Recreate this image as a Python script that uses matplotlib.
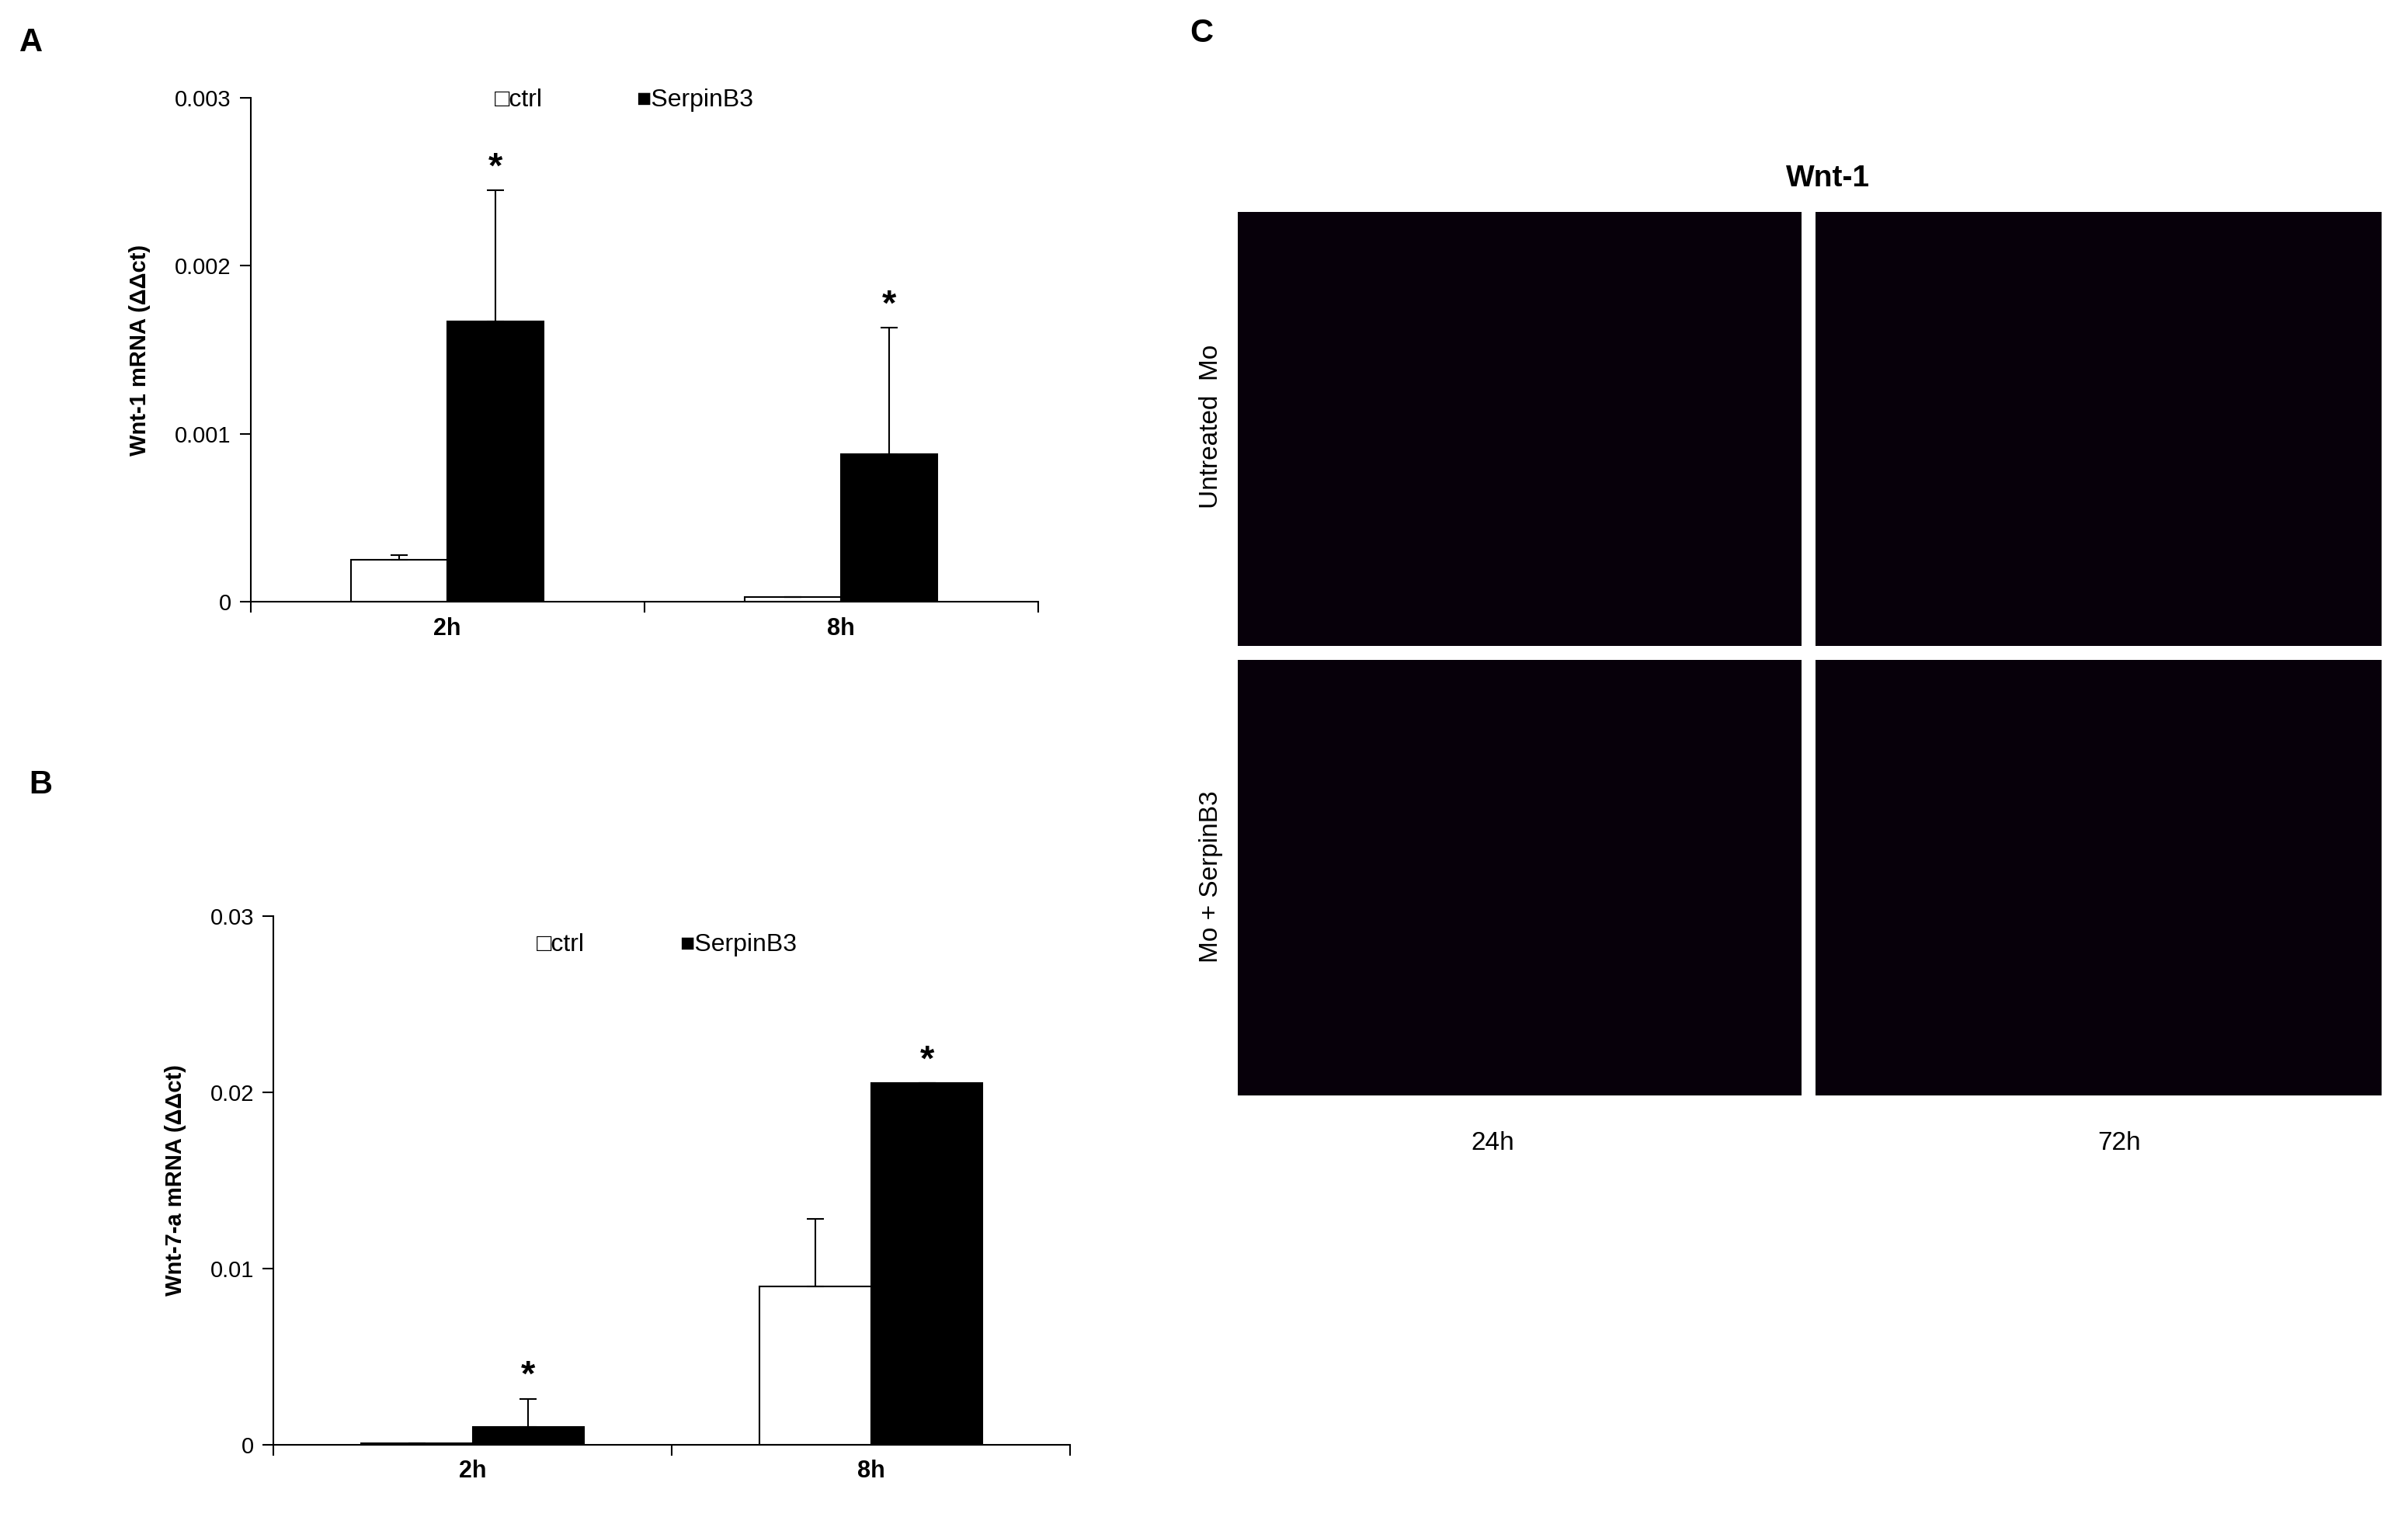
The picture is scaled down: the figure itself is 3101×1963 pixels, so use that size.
import matplotlib
matplotlib.use("Agg")
import matplotlib.pyplot as plt
import numpy as np

plt.rcParams['font.family'] = ['Arial', 'Liberation Sans', 'DejaVu Sans']

groups = ["2h", "8h"]
a_ctrl = [0.00025, 0.00003]
a_ctrl_err = [0.00003, 0.0]
a_serp = [0.00167, 0.00088]
a_serp_err = [0.00078, 0.00075]
a_ticks = [0, 0.001, 0.002, 0.003]
a_ticklabels = ["0", "0.001", "0.002", "0.003"]

b_ctrl = [0.0001, 0.009]
b_ctrl_err = [0.0, 0.0038]
b_serp = [0.001, 0.0205]
b_serp_err = [0.0016, 0.0]
b_ticks = [0, 0.01, 0.02, 0.03]
b_ticklabels = ["0", "0.01", "0.02", "0.03"]

W, H = 31.01, 19.63
fig = plt.figure(figsize=(W, H), dpi=100)

def panel(rect, ctrl, cerr, serp, serr, ticks, tlabels, ylabel, width, star_pad, leg_xy):
    ax = fig.add_axes(rect)
    x = np.arange(len(groups)) + 0.5
    ax.bar(x - width/2, ctrl, width, color='white', edgecolor='black', lw=1.5,
           yerr=[np.zeros(len(cerr)), cerr], error_kw=dict(ecolor='black', lw=1.5, capsize=8, capthick=1.5))
    ax.bar(x + width/2, serp, width, color='black', edgecolor='black', lw=1.5,
           yerr=[np.zeros(len(serr)), serr], error_kw=dict(ecolor='black', lw=1.5, capsize=8, capthick=1.5))
    for xi, v, e in zip(x, serp, serr):
        ax.text(xi + width/2, v + e + star_pad, "*", ha='center', va='bottom', fontsize=34, fontweight='bold')
    ax.set_xlim(0, 2)
    ax.set_ylim(ticks[0], ticks[-1])
    ax.set_yticks(ticks)
    ax.set_yticklabels(tlabels, fontsize=21)
    ax.set_xticks(x)
    ax.set_xticklabels(groups, fontsize=22, fontweight='bold')
    ax.set_xticks([0, 1, 2], minor=True)
    ax.tick_params(axis='x', which='major', length=0, pad=14)
    ax.tick_params(axis='x', which='minor', length=10, width=1.5)
    ax.tick_params(axis='y', length=10, width=1.5, pad=8)
    for s in ['top', 'right']:
        ax.spines[s].set_visible(False)
    for s in ['left', 'bottom']:
        ax.spines[s].set_linewidth(1.5)
    ax.set_ylabel(ylabel, fontsize=21, fontweight='bold', labelpad=22)
    lx, ly = leg_xy
    ax.text(lx, ly, "\u25a1ctrl", transform=ax.transAxes, fontsize=23, va='center')
    ax.text(lx + 0.18, ly, "\u25a0SerpinB3", transform=ax.transAxes, fontsize=23, va='center')
    return ax

panel([0.104, 0.605, 0.327, 0.331], a_ctrl, a_ctrl_err, a_serp, a_serp_err,
      a_ticks, a_ticklabels, "Wnt-1 mRNA (\u0394\u0394ct)", 0.245, 0.00003, (0.31, 0.995))
panel([0.1135, 0.052, 0.331, 0.347], b_ctrl, b_ctrl_err, b_serp, b_serp_err,
      b_ticks, b_ticklabels, "Wnt-7-a mRNA (\u0394\u0394ct)", 0.28, 0.0003, (0.33, 0.945))

fig.text(0.008, 0.972, "A", fontsize=30, fontweight='bold', va='center')
fig.text(0.012, 0.485, "B", fontsize=30, fontweight='bold', va='center')
fig.text(0.494, 0.978, "C", fontsize=30, fontweight='bold', va='center')

# Panel C: microscopy image placeholders
img_rects = [[0.514, 0.576, 0.234, 0.285], [0.754, 0.576, 0.235, 0.285],
             [0.514, 0.281, 0.234, 0.286], [0.754, 0.281, 0.235, 0.286]]
for r in img_rects:
    a = fig.add_axes(r)
    a.imshow(np.zeros((10, 10, 3)) + np.array([0.03, 0.0, 0.04]), aspect='auto')
    a.set_xticks([]); a.set_yticks([])
    for s in a.spines.values():
        s.set_visible(False)

fig.text(0.759, 0.883, "Wnt-1", fontsize=28, fontweight='bold', ha='center', va='center')
fig.text(0.503, 0.72, "Untreated  Mo", fontsize=24, rotation=90, ha='center', va='center')
fig.text(0.503, 0.425, "Mo + SerpinB3", fontsize=24, rotation=90, ha='center', va='center')
fig.text(0.62, 0.25, "24h", fontsize=24, ha='center', va='center')
fig.text(0.88, 0.25, "72h", fontsize=24, ha='center', va='center')

fig.savefig("out.png", dpi=100, facecolor='white')
